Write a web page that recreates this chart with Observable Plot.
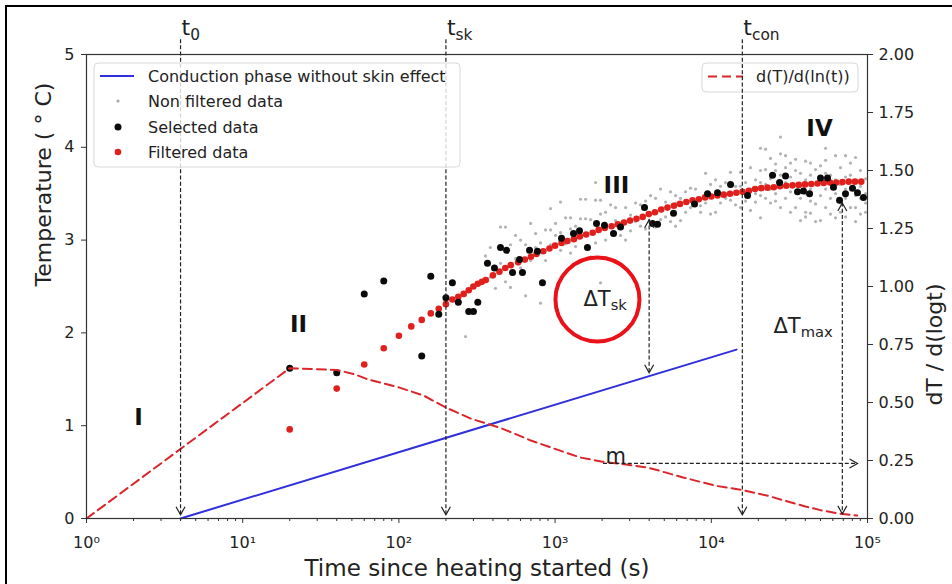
<!DOCTYPE html>
<html><head><meta charset="utf-8">
<script src="https://cdn.jsdelivr.net/npm/d3@7"></script>
<script src="https://cdn.jsdelivr.net/npm/@observablehq/plot@0.6"></script>
<style>
body{margin:0;background:#fff;}
#chart{width:952px;height:584px;}
</style>
</head><body><div id="chart"></div>
<script>
// ---------- data ----------
const majorTicks = [1, 10, 100, 1000, 10000, 100000];
const leftTicks = [0, 1, 2, 3, 4, 5];
const rightTicks = [0, 0.25, 0.5, 0.75, 1.0, 1.25, 1.5, 1.75, 2.0];
const rightFactor = 2.5; // right axis (dT/dln t) 0..2 spans left axis 0..5

const conductionTime = [4, 14500];
const conductionTemp = [0, 1.82];

const derivTime  = [1, 20, 40, 52, 63, 80, 100, 144, 200, 290, 450, 700, 1000, 1450, 2000, 2600, 3900, 5000, 6600, 8500, 10900, 16000, 23000, 30500, 40000, 50000, 65000, 86000];
const derivValue = [0, 0.648, 0.640, 0.622, 0.600, 0.582, 0.565, 0.53, 0.478, 0.43, 0.39, 0.336, 0.30, 0.263, 0.245, 0.236, 0.22, 0.2, 0.177, 0.158, 0.14, 0.122, 0.098, 0.074, 0.052, 0.036, 0.022, 0.013];

const selectedTime = [20,40,60,80,140,160,180,200,220,240,280,300,320,
  369,409,447,489,534,592,618,686,771,830,
  1099,1312,1433,1611,1841,2071,2366,2624,
  3736,4204,4527,5728,7810,9460,10960,13280,17060,
  24660,27350,29870,35640,38900,42560,50010,55460,60570,66230,72290,80170,86300,94270];
const selectedTemp = [1.62,1.57,2.42,2.56,1.75,2.61,2.20,2.38,2.54,2.33,2.23,2.23,2.33,
  2.75,2.70,2.92,2.89,2.65,2.79,2.65,2.89,2.88,2.54,
  3.02,3.07,3.10,2.92,3.18,3.16,3.07,3.14,
  3.35,3.18,3.17,3.29,3.39,3.50,3.51,3.60,3.48,
  3.70,3.62,3.69,3.52,3.53,3.50,3.67,3.67,3.57,3.43,3.50,3.56,3.51,3.46];

const filteredTime = [20,40,60,80,100,120,140,160,180,200,220,240,260,280,300,320,
  340,360,400,440,480,520,580,640,700,760,
  840,920,1000,1100,1200,1320,1440,1580,1740,1900,
  2080,2300,2520,2760,3020,3320,3640,3980,4360,4780,
  5240,5760,6300,6920,7580,8320,9120,10000,10960,12020,
  13180,14460,15840,17380,19060,20900,22900,25120,27540,30200,
  33120,36300,39800,43660,47860,52480,57540,63100,69180,75860,
  83180,91200];
const filteredTemp = [0.96,1.40,1.66,1.835,1.97,2.07,2.14,2.21,2.26,2.31,2.36,2.39,2.42,2.46,2.50,2.53,
  2.55,2.57,2.62,2.66,2.70,2.73,2.76,2.79,2.82,2.85,
  2.88,2.91,2.94,2.97,2.99,3.01,3.04,3.06,3.08,3.11,
  3.13,3.15,3.17,3.19,3.21,3.23,3.25,3.28,3.30,3.33,
  3.35,3.37,3.39,3.41,3.43,3.44,3.46,3.47,3.48,3.49,
  3.50,3.51,3.52,3.53,3.55,3.56,3.565,3.57,3.58,3.585,
  3.59,3.595,3.60,3.605,3.61,3.615,3.62,3.62,3.625,3.63,
  3.63,3.63];

// non filtered data: [time (s), temperature]
const nonFilteredData = [
  [267,1.96],[358,2.83],[385,2.92],[385,2.60],[415,2.48],[447,3.14],[447,2.75],[481,3.14],[481,2.55],
  [518,2.49],[518,2.95],[558,3.05],[558,2.80],[601,2.70],[601,3.00],[647,2.40],[647,2.95],
  [697,3.18],[697,2.78],[750,3.07],[750,2.92],[807,2.32],[807,2.97],[869,2.78],[869,3.11],
  [935,3.34],[935,3.11],[935,2.95],[1007,3.18],[1007,3.05],[1084,3.41],[1084,2.89],[1084,3.08],
  [1167,3.24],[1167,2.96],[1256,3.24],[1256,2.86],[1256,3.12],[1352,3.15],[1352,2.93],
  [1455,3.44],[1455,3.23],[1455,3.05],[1567,3.44],[1567,3.23],[1687,2.82],[1687,3.22],
  [1816,3.62],[1816,3.43],[1816,2.97],[1954,3.43],[1954,2.54],[1954,3.28],[2104,3.00],[2104,3.30],
  [2265,3.38],[2438,3.21],[2438,3.35],[2624,3.05],[2826,3.00],[2826,3.35],[3041,3.27],[3041,3.10],
  [3275,3.20],[3275,3.40],[3524,3.15],[3524,3.38],[3795,3.42],[3795,3.12],[4083,3.48],
  [4398,3.14],[4398,3.45],[4732,3.55],[4732,3.22],[5097,3.41],[5097,3.25],[5483,3.52],[5483,3.20],
  [5906,3.40],[5906,3.48],[5906,3.15],[6353,3.21],[6353,3.45],[6844,3.52],[6844,3.30],
  [7362,3.56],[7362,3.35],[7931,3.38],[7931,3.55],[8531,3.37],[8531,3.30],[9190,3.72],[9190,3.40],
  [9886,3.28],[9886,3.60],[10650,3.65],[10650,3.30],[11455,3.40],[11455,3.58],[12340,3.62],[12340,3.45],
  [13274,3.73],[13274,3.43],[14300,3.58],[14300,3.38],[15382,3.73],[15382,3.58],[15382,3.35],
  [16570,3.62],[16570,3.42],[17824,3.32],[17824,3.78],[17824,3.55],[19200,3.41],[19200,3.65],[19200,3.50],
  [20654,3.99],[20654,3.24],[20654,3.75],[20654,3.48],[20654,3.62],
  [22250,3.76],[22250,3.45],[22250,3.60],[22250,3.98],[23933,3.88],[23933,3.40],[23933,3.66],[23933,3.55],
  [25790,3.75],[25790,3.50],[25790,3.42],[25790,3.82],[27733,4.11],[27733,3.93],[27733,3.35],[27733,3.60],[27733,3.70],
  [29880,3.91],[29880,3.45],[29880,3.78],[29880,3.62],[32137,3.83],[32137,3.30],[32137,3.68],[32137,3.52],
  [34630,3.35],[34630,3.75],[34630,3.60],[34630,3.87],[37239,3.21],[37239,3.72],[37239,3.58],[37239,3.45],
  [40130,3.85],[40130,3.30],[40130,3.65],[40130,3.50],[40130,3.25],
  [43151,3.83],[43151,3.29],[43151,3.70],[43151,3.55],[43151,3.42],
  [46500,3.39],[46500,3.76],[46500,3.60],[46500,3.20],[50003,3.62],[50003,3.21],[50003,3.80],[50003,3.48],
  [53890,3.99],[53890,3.86],[53890,3.35],[53890,3.55],[53890,3.72],[57940,3.70],[57940,3.45],[57940,3.28],[57940,3.60],
  [62450,3.91],[62450,3.24],[62450,3.65],[62450,3.50],[67140,3.78],[67140,3.40],[67140,3.60],[67140,3.30],
  [72370,3.91],[72370,3.45],[72370,3.68],[72370,3.25],[72370,3.55],[77800,3.83],[77800,3.55],[77800,3.35],[77800,3.70],
  [83860,3.89],[83860,3.35],[83860,3.62],[83860,3.48],[83860,3.20],[90150,3.75],[90150,3.28],[90150,3.58],[90150,3.45],
  [97180,3.66],[97180,3.40],[97180,3.50],[97180,3.30]
];

// annotation lines (time, temperature)
const phaseLines = [{t:4, label:"t_0"}, {t:200, label:"t_sk"}, {t:15800, label:"t_con"}];
const phaseTop = 5.16, arrowTip = 0.04;
const dTskArrow = {t:4000, top:3.22, bottom:1.57};
const dTmaxArrow = {t:69000, top:3.40, bottom:0.05};
const mArrow = {t1:2040, t2:86300, T:0.593};
const romanLabels = [{t:2.15,T:1.09,label:"I"},{t:22.8,T:2.09,label:"II"},{t:2470,T:3.59,label:"III"},{t:49300,T:4.20,label:"IV"}];
const deltaLabels = [{t:1520,T:2.295,label:"ΔT_sk"},{t:25000,T:2.0,label:"ΔT_max"}];
const mLabel = [{t:2100,T:0.60,label:"m"}];
const circleMark = [{t:1867,T:2.36}];

// ---------- derived ----------
const conduction = conductionTime.map((t,i)=>({t, T:conductionTemp[i]}));
const deriv = derivTime.map((t,i)=>({t, T:derivValue[i]*rightFactor}));
const selected = selectedTime.map((t,i)=>({t, T:selectedTemp[i]}));
const filtered = filteredTime.map((t,i)=>({t, T:filteredTemp[i]}));
const minorTicks = [];
for (let k=0;k<5;k++) for (let m=2;m<=9;m++) minorTicks.push(m*10**k);
const sup = {"0":"⁰","1":"¹","2":"²","3":"³","4":"⁴","5":"⁵"};

const chevDown = {draw(c){c.moveTo(-4.5,-8);c.lineTo(0,0);c.lineTo(4.5,-8);}};
const chevUp = {draw(c){c.moveTo(-4.5,8);c.lineTo(0,0);c.lineTo(4.5,8);}};
const chevRight = {draw(c){c.moveTo(-8,-4.5);c.lineTo(0,0);c.lineTo(-8,4.5);}};

const downHeads = [...phaseLines.map(d=>({t:d.t,T:arrowTip})), {t:dTskArrow.t,T:dTskArrow.bottom}, {t:dTmaxArrow.t,T:dTmaxArrow.bottom}];
const upHeads = [{t:dTskArrow.t,T:dTskArrow.top}, {t:dTmaxArrow.t,T:dTmaxArrow.top}];
const rightHeads = [{t:mArrow.t2, T:mArrow.T}];

const ink = "#222";
const dash = {stroke: ink, strokeWidth: 1.2, strokeDasharray: "4,2.2"};

const svgPlot = Plot.plot({
  width: 952, height: 584,
  marginLeft: 86, marginRight: 85, marginTop: 54, marginBottom: 66,
  x: {type: "log", domain: [1, 1e5]},
  y: {domain: [0, 5]},
  style: {fontFamily: "DejaVu Sans", fontSize: "16px", color: ink, background: "white", overflow: "visible"},
  marks: [
    Plot.dot(nonFilteredData, {x: d=>d[0], y: d=>d[1], r: 1.6, fill: "#a6a6a6", fillOpacity: 0.85}),
    Plot.line(conduction, {x: "t", y: "T", stroke: "#2f2fdc", strokeWidth: 2}),
    Plot.dot(filtered, {x: "t", y: "T", r: 3.3, fill: "#e0201c"}),
    Plot.dot(selected, {x: "t", y: "T", r: 3.5, fill: "#0a0a0a"}),
    Plot.line(deriv, {x: "t", y: "T", stroke: "#d9262a", strokeWidth: 2, strokeDasharray: "9,5"}),
    Plot.ruleX(phaseLines, {x: "t", y1: phaseTop, y2: arrowTip, ...dash}),
    Plot.ruleX([dTskArrow], {x: "t", y1: "top", y2: "bottom", ...dash}),
    Plot.ruleX([dTmaxArrow], {x: "t", y1: "top", y2: "bottom", ...dash}),
    Plot.ruleY([mArrow], {y: "T", x1: "t1", x2: "t2", ...dash}),
    Plot.dot(downHeads, {x: "t", y: "T", symbol: chevDown, fill: "none", stroke: ink, strokeWidth: 1.2}),
    Plot.dot(upHeads, {x: "t", y: "T", symbol: chevUp, fill: "none", stroke: ink, strokeWidth: 1.2}),
    Plot.dot(rightHeads, {x: "t", y: "T", symbol: chevRight, fill: "none", stroke: ink, strokeWidth: 1.2}),
    Plot.text(phaseLines, {x: "t", y: 5.205, text: "label", textAnchor: "start", lineAnchor: "bottom", dx: 1, fontSize: 22, fill: ink}),
    Plot.text(romanLabels, {x: "t", y: "T", text: "label", fontSize: 23, fontWeight: "bold", fill: "#111"}),
    Plot.text(deltaLabels, {x: "t", y: "T", text: "label", textAnchor: "start", lineAnchor: "bottom", fontSize: 21, fill: ink}),
    Plot.text(mLabel, {x: "t", y: "T", text: "label", textAnchor: "start", lineAnchor: "bottom", fontSize: 21, fill: ink}),
    Plot.dot(circleMark, {x: "t", y: "T", r: 42, stroke: "#ea1218", strokeWidth: 4, fill: "none"}),
    Plot.axisX({ticks: minorTicks, tickSize: 3, tickFormat: () => "", stroke: "#333"}),
    Plot.axisX({ticks: majorTicks, tickSize: 5, tickPadding: 13, fontSize: 16, label: null, stroke: "#333",
      tickFormat: d => "10" + sup[String(Math.round(Math.log10(d)))]}),
    Plot.axisY({ticks: leftTicks, tickSize: 5, tickPadding: 7, fontSize: 16, label: null, stroke: "#333",
      tickFormat: d => String(d)}),
    Plot.axisY({anchor: "right", ticks: rightTicks.map(v => v*rightFactor), tickSize: 5, tickPadding: 6, fontSize: 16,
      label: null, stroke: "#333", tickFormat: d => (d/rightFactor).toFixed(2)}),
    Plot.frame({stroke: "#333", strokeWidth: 1.2}),
    Plot.text(["Time since heating started (s)"], {text: d=>d, frameAnchor: "bottom", dy: 57, lineAnchor: "bottom", fontSize: 23, fill: ink}),
    Plot.text(["Temperature ( ° C)"], {text: d=>d, frameAnchor: "left", dx: -36, rotate: -90, lineAnchor: "bottom", fontSize: 22, fill: ink}),
    Plot.text(["dT / d(logt)"], {text: d=>d, frameAnchor: "right", dx: 74, dy: -3, rotate: -90, lineAnchor: "bottom", fontSize: 22, fill: ink})
  ]
});

document.getElementById("chart").appendChild(svgPlot);
const svg = d3.select(svgPlot);

// subscripts
svg.selectAll("text").each(function(){
  const s = this.textContent;
  if (this.childElementCount === 0 && s.includes("_")) {
    const [a, b] = s.split("_");
    const sel = d3.select(this);
    sel.text(null);
    sel.append("tspan").text(a);
    sel.append("tspan").attr("dy", "0.3em").attr("font-size", "0.7em").text(b);
  }
});

// legend (upper right) placed beneath the marks
const lg2 = svg.insert("g", ":first-child").attr("text-anchor", "start");
lg2.append("rect").attr("x", 702).attr("y", 63).attr("width", 156).attr("height", 29).attr("rx", 4)
  .attr("fill", "white").attr("fill-opacity", 0.8).attr("stroke", "#d8d8d8");
lg2.append("line").attr("x1", 708).attr("x2", 743).attr("y1", 76.5).attr("y2", 76.5)
  .attr("stroke", "#d9262a").attr("stroke-width", 2).attr("stroke-dasharray", "9,5");
lg2.append("text").attr("x", 756).attr("y", 76.5).attr("dy", "0.35em").attr("font-size", 16)
  .attr("font-family", "DejaVu Sans").attr("fill", ink).attr("text-anchor", "start").text("d(T)/d(ln(t))");

// legend (upper left)
const lg1 = svg.append("g").attr("font-family", "DejaVu Sans").attr("font-size", 16).attr("fill", ink).attr("text-anchor", "start");
lg1.append("rect").attr("x", 94).attr("y", 63).attr("width", 366).attr("height", 104).attr("rx", 4)
  .attr("fill", "white").attr("fill-opacity", 0.8).attr("stroke", "#d8d8d8");
lg1.append("line").attr("x1", 100).attr("x2", 134).attr("y1", 76).attr("y2", 76).attr("stroke", "#2f2fdc").attr("stroke-width", 2);
lg1.append("circle").attr("cx", 118).attr("cy", 101).attr("r", 1.6).attr("fill", "#a6a6a6");
lg1.append("circle").attr("cx", 118).attr("cy", 127).attr("r", 3.5).attr("fill", "#0a0a0a");
lg1.append("circle").attr("cx", 118).attr("cy", 152).attr("r", 3.3).attr("fill", "#e0201c");
const legTexts = ["Conduction phase without skin effect", "Non filtered data", "Selected data", "Filtered data"];
[76, 101, 127, 152].forEach((y, i) => {
  lg1.append("text").attr("x", 148).attr("y", y).attr("dy", "0.35em").attr("text-anchor", "start").text(legTexts[i]);
});

// outer picture frame
svg.append("line").attr("x1", 5).attr("x2", 952).attr("y1", 6).attr("y2", 6).attr("stroke", "#000").attr("stroke-width", 2);
svg.append("line").attr("x1", 6).attr("x2", 6).attr("y1", 5).attr("y2", 584).attr("stroke", "#000").attr("stroke-width", 2);
</script>
</body></html>
